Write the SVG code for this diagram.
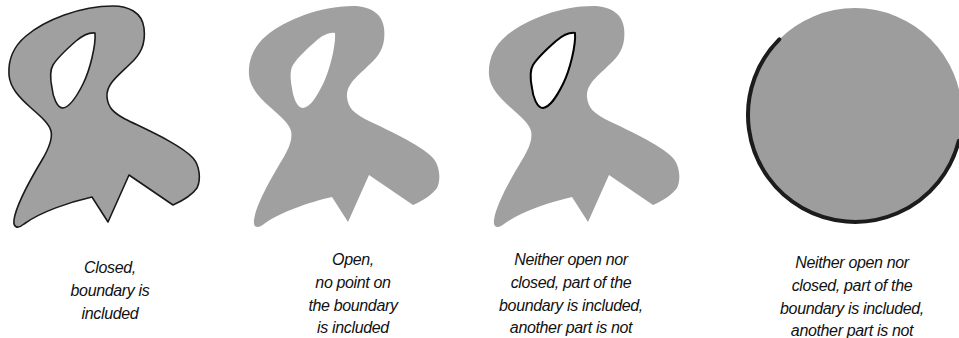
<svg xmlns="http://www.w3.org/2000/svg" xmlns:xlink="http://www.w3.org/1999/xlink" width="959" height="338" viewBox="0 0 959 338">
<style>
.fill{fill:#a0a0a0;fill-rule:evenodd}
.edge{fill:none;stroke:#1a1a1a;stroke-width:1.6;stroke-linejoin:round}
.hole{fill:none;stroke:#000;stroke-width:2;stroke-linejoin:round}
.lbl{font-family:"Liberation Sans",Arial,sans-serif;font-style:italic;font-size:16px;letter-spacing:-0.35px;fill:#111;text-anchor:middle}
</style>
<defs>
<path id="outer" d="M113,6 C128,6 142,12 144,28 C146,45 140,55 130,64 C118,76 106,84 107,97 C108,108 114,113 125,119 C145,129 180,144 193,158 C200,166 201,180 197,188 C192,195 182,201 173,205 L129,175 L108,222 L92,197 C70,202 40,212 24,224 C18,229 13,228 14,220 C16,205 30,180 42,160 C48,150 53,140 51,131 C49,123 40,116 30,107 C20,98 10,88 9,75 C8,60 14,46 26,36 C45,20 80,6 113,6 Z"/>
<path id="inner" d="M95,33 C96,45 90,70 83,84 C76,98 70,107 63,108 C57,108 53,97 52,88 C50,78 50,70 53,65 C58,57 68,48 76,41 C82,36 88,32 95,33 Z"/>
<path id="blob" d="M113,6 C128,6 142,12 144,28 C146,45 140,55 130,64 C118,76 106,84 107,97 C108,108 114,113 125,119 C145,129 180,144 193,158 C200,166 201,180 197,188 C192,195 182,201 173,205 L129,175 L108,222 L92,197 C70,202 40,212 24,224 C18,229 13,228 14,220 C16,205 30,180 42,160 C48,150 53,140 51,131 C49,123 40,116 30,107 C20,98 10,88 9,75 C8,60 14,46 26,36 C45,20 80,6 113,6 Z M95,33 C96,45 90,70 83,84 C76,98 70,107 63,108 C57,108 53,97 52,88 C50,78 50,70 53,65 C58,57 68,48 76,41 C82,36 88,32 95,33 Z"/>
</defs>
<g id="closed">
<use xlink:href="#blob" class="fill"/>
<use xlink:href="#outer" class="edge"/>
<use xlink:href="#inner" class="edge"/>
<text class="lbl"><tspan x="110" y="273">Closed,</tspan><tspan x="110" y="296">boundary is</tspan><tspan x="110" y="319">included</tspan></text>
</g>
<g id="open">
<use xlink:href="#blob" class="fill" transform="translate(240,0)"/>
<text class="lbl"><tspan x="353" y="265">Open,</tspan><tspan x="353" y="288">no point on</tspan><tspan x="353" y="310.5">the boundary</tspan><tspan x="353" y="333">is included</tspan></text>
</g>
<g id="neither1">
<use xlink:href="#blob" class="fill" transform="translate(480,0)"/>
<use xlink:href="#inner" class="hole" transform="translate(480,0)"/>
<text class="lbl"><tspan x="571" y="265">Neither open nor</tspan><tspan x="571" y="288">closed, part of the</tspan><tspan x="571" y="310.5">boundary is included,</tspan><tspan x="571" y="333">another part is not</tspan></text>
</g>
<g id="neither2">
<circle cx="855" cy="115" r="107" fill="#9d9d9d"/>
<path d="M779.3,39.3 A107,107 0 1,0 958.8,140.9" fill="none" stroke="#1c1c1c" stroke-width="4" stroke-linecap="round"/>
<text class="lbl"><tspan x="852" y="268">Neither open nor</tspan><tspan x="852" y="291">closed, part of the</tspan><tspan x="852" y="313.5">boundary is included,</tspan><tspan x="852" y="336">another part is not</tspan></text>
</g>
</svg>
